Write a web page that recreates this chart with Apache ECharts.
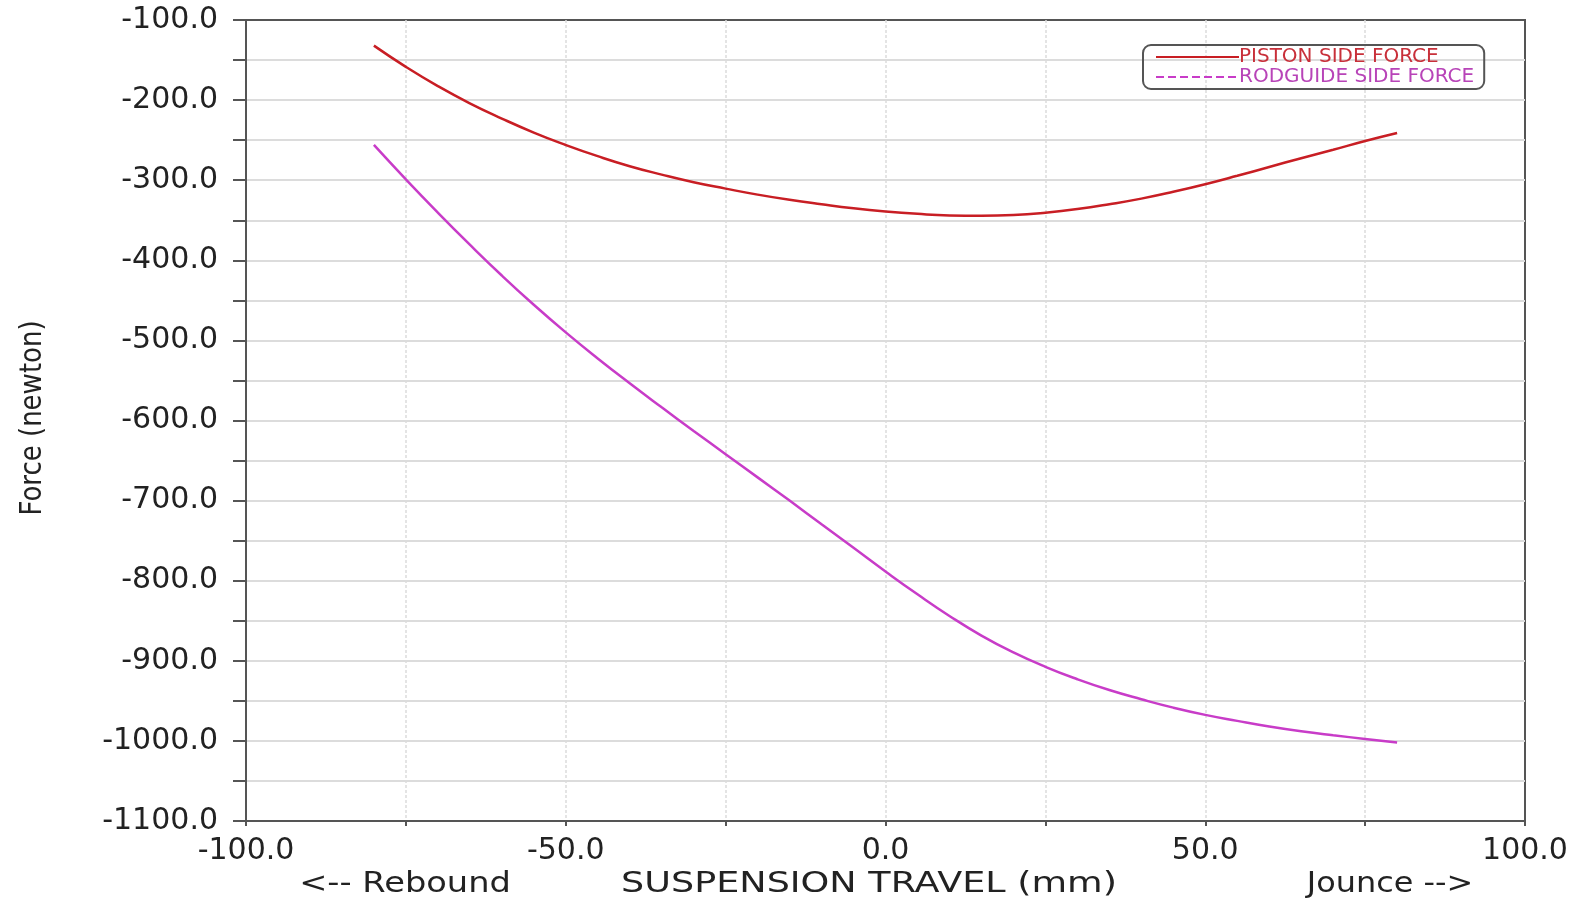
<!DOCTYPE html>
<html>
<head>
<meta charset="utf-8">
<title>Side force vs suspension travel</title>
<script src="https://cdn.jsdelivr.net/npm/echarts@6/dist/echarts.min.js"></script>
<style>
  html, body { margin: 0; padding: 0; background: #fff; }
  #chart { width: 1579px; height: 901px; }
</style>
</head>
<body>
<div id="chart"></div>
<script>
// suspension travel (mm)
const travel = [-80, -75, -70, -65, -60, -55, -50, -45, -40, -35, -30, -25, -20, -15, -10, -5,
  0, 5, 10, 15, 20, 25, 30, 35, 40, 45, 50, 55, 60, 65, 70, 75, 80]
// piston side force (N)
const pistonForce = [-132, -158.5, -182.5, -204, -223, -240.5, -256, -270, -282.5, -293, -302.5, -310.5, -318, -324.5, -330, -335,
  -339, -342, -344, -344.5, -343.5, -340.5, -336, -330, -323, -314.5, -305, -294.5, -283.5, -272.5, -262, -251, -241]
// rodguide side force (N)
const rodguideForce = [-256, -299, -340.5, -380.5, -419, -455.5, -490, -522.5, -553.5, -583.5, -613, -642, -671, -700, -729.5, -759,
  -788.5, -817, -844, -868.5, -889.5, -907.5, -923, -936.5, -948, -958.5, -967.5, -975, -982, -988, -993, -997.5, -1002]

const seriesNames = ['PISTON SIDE FORCE', 'RODGUIDE SIDE FORCE']
const xTitle = 'SUSPENSION TRAVEL (mm)'
const yTitle = 'Force (newton)'

const axisColor = '#555'
const gridColor = '#dcdcdc'
const labelFont = 'DejaVu Sans'

const chart = echarts.init(document.getElementById('chart'))

chart.setOption({
  animation: false,
  grid: {
    left: 246,
    right: 54,
    top: 20,
    bottom: 80,
    show: true,
    borderColor: axisColor,
    borderWidth: 2
  },
  legend: {
    orient: 'vertical',
    left: 1143,
    top: 45,
    padding: [2, 10, 2, 12],
    itemWidth: 83,
    itemHeight: 10,
    itemGap: 0,
    borderColor: axisColor,
    borderWidth: 2,
    borderRadius: 8,
    itemStyle: { opacity: 0 },
    lineStyle: { width: 2 },
    textStyle: { fontFamily: labelFont, fontSize: 20, lineHeight: 17, padding: [0, 0, 0, -5] },
    data: [
      { name: seriesNames[0], textStyle: { color: '#c8303a' } },
      { name: seriesNames[1], textStyle: { color: '#b844b8' }, lineStyle: { type: [8, 4], width: 2 } }
    ]
  },
  xAxis: {
    type: 'value',
    min: -100,
    max: 100,
    interval: 50,
    axisLine: { onZero: false, lineStyle: { color: axisColor, width: 2 } },
    axisTick: { show: true, length: 5, lineStyle: { color: axisColor, width: 2 } },
    minorTick: { show: true, splitNumber: 2, length: 5, lineStyle: { color: axisColor, width: 2 } },
    splitLine: { show: true, showMinLine: false, showMaxLine: false, lineStyle: { color: gridColor, width: 1.5, type: [3, 2] } },
    minorSplitLine: { show: true, lineStyle: { color: gridColor, width: 1.5, type: [3, 2] } },
    axisLabel: {
      margin: 15,
      color: '#222',
      fontFamily: labelFont,
      fontSize: 30,
      formatter: v => v.toFixed(1)
    }
  },
  yAxis: {
    type: 'value',
    min: -1100,
    max: -100,
    interval: 100,
    axisLine: { onZero: false, lineStyle: { color: axisColor, width: 2 } },
    axisTick: { show: true, length: 13, lineStyle: { color: axisColor, width: 2 } },
    minorTick: { show: true, splitNumber: 2, length: 13, lineStyle: { color: axisColor, width: 2 } },
    splitLine: { show: true, showMinLine: false, showMaxLine: false, lineStyle: { color: gridColor, width: 2 } },
    minorSplitLine: { show: true, lineStyle: { color: gridColor, width: 2 } },
    axisLabel: {
      margin: 28,
      color: '#222',
      fontFamily: labelFont,
      fontSize: 30,
      formatter: v => v.toFixed(1)
    }
  },
  graphic: [
    {
      type: 'text',
      x: 33, y: 418,
      rotation: Math.PI / 2,
      scaleY: 1.15,
      style: { text: yTitle, font: '26px "DejaVu Sans"', fill: '#222', align: 'center', verticalAlign: 'middle' }
    },
    {
      type: 'text',
      x: 405, y: 884,
      scaleX: 1.16,
      style: { text: '<-- Rebound', font: '29px "DejaVu Sans"', fill: '#222', align: 'center', verticalAlign: 'middle' }
    },
    {
      type: 'text',
      x: 869, y: 884,
      scaleX: 1.26,
      style: { text: xTitle, font: '29px "DejaVu Sans"', fill: '#222', align: 'center', verticalAlign: 'middle' }
    },
    {
      type: 'text',
      x: 1390, y: 884,
      scaleX: 1.1,
      style: { text: 'Jounce -->', font: '29px "DejaVu Sans"', fill: '#222', align: 'center', verticalAlign: 'middle' }
    }
  ],
  series: [
    {
      name: seriesNames[0],
      type: 'line',
      smooth: true,
      symbol: 'none',
      color: '#c81e24',
      lineStyle: { width: 2.5 },
      data: travel.map((x, i) => [x, pistonForce[i]])
    },
    {
      name: seriesNames[1],
      type: 'line',
      smooth: true,
      symbol: 'none',
      color: '#c83cc8',
      lineStyle: { width: 2.5 },
      data: travel.map((x, i) => [x, rodguideForce[i]])
    }
  ]
})
</script>
</body>
</html>
